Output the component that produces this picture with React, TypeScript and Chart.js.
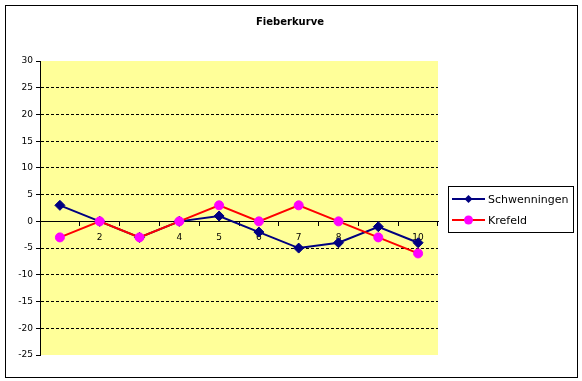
import React, { useEffect, useRef } from "react";
import { Chart, registerables } from "chart.js";

Chart.register(...registerables);

const TITLE = "Fieberkurve";
const CATEGORIES = ["1", "2", "3", "4", "5", "6", "7", "8", "9", "10"];
const SERIES_NAMES = ["Schwenningen", "Krefeld"];
const SCHWENNINGEN = [3, 0, -3, 0, 1, -2, -5, -4, -1, -4];
const KREFELD = [-3, 0, -3, 0, 3, 0, 3, 0, -3, -6];
const Y_MIN = -25;
const Y_MAX = 30;
const Y_STEP = 5;

const NAVY = "#000080";
const RED = "#FF0000";
const MAGENTA = "#FF00FF";
const PLOT_BG = "#FFFF99";
const FONT = "'DejaVu Sans', Tahoma, Verdana, sans-serif";

const decorPlugin = {
  id: "decor",
  beforeDraw(chart: any) {
    const { ctx, chartArea, width, height } = chart;
    ctx.save();
    ctx.fillStyle = "#ffffff";
    ctx.fillRect(0, 0, width, height);
    ctx.strokeStyle = "#000000";
    ctx.lineWidth = 1;
    ctx.strokeRect(5.5, 5.5, 572, 372);
    ctx.fillStyle = PLOT_BG;
    ctx.fillRect(chartArea.left, chartArea.top, chartArea.right - chartArea.left, chartArea.bottom - chartArea.top);
    ctx.restore();
  },
  afterDraw(chart: any) {
    const { ctx } = chart;
    ctx.save();
    // title
    ctx.fillStyle = "#000000";
    ctx.font = `bold 10px ${FONT}`;
    ctx.textAlign = "center";
    ctx.textBaseline = "middle";
    ctx.fillText(TITLE, 290, 22);
    // legend box
    ctx.strokeStyle = "#000000";
    ctx.lineWidth = 1;
    ctx.strokeRect(448.5, 186.5, 125, 46);
    const rows = [
      { name: SERIES_NAMES[0], line: NAVY, fill: NAVY, style: "diamond", y: 199 },
      { name: SERIES_NAMES[1], line: RED, fill: MAGENTA, style: "circle", y: 220 },
    ];
    rows.forEach((r) => {
      ctx.strokeStyle = r.line;
      ctx.lineWidth = 2;
      ctx.beginPath();
      ctx.moveTo(452, r.y);
      ctx.lineTo(485, r.y);
      ctx.stroke();
      ctx.fillStyle = r.fill;
      ctx.beginPath();
      if (r.style === "diamond") {
        ctx.moveTo(468.5, r.y - 4);
        ctx.lineTo(472.5, r.y);
        ctx.lineTo(468.5, r.y + 4);
        ctx.lineTo(464.5, r.y);
        ctx.closePath();
      } else {
        ctx.arc(468.5, r.y, 4.5, 0, Math.PI * 2);
      }
      ctx.fill();
      ctx.fillStyle = "#000000";
      ctx.font = `11px ${FONT}`;
      ctx.textAlign = "left";
      ctx.textBaseline = "middle";
      ctx.fillText(r.name, 488, r.y + 1);
    });
    ctx.restore();
  },
};

export default function App() {
  const ref = useRef<HTMLCanvasElement | null>(null);
  useEffect(() => {
    if (!ref.current) return;
    const chart = new Chart(ref.current, {
      type: "line",
      data: {
        labels: CATEGORIES,
        datasets: [
          {
            label: SERIES_NAMES[0],
            data: SCHWENNINGEN,
            borderColor: NAVY,
            backgroundColor: NAVY,
            pointBackgroundColor: NAVY,
            pointBorderColor: NAVY,
            pointStyle: "rectRot",
            pointRadius: 5,
            pointBorderWidth: 1,
            borderWidth: 2,
            tension: 0,
            order: 1,
          },
          {
            label: SERIES_NAMES[1],
            data: KREFELD,
            borderColor: RED,
            backgroundColor: MAGENTA,
            pointBackgroundColor: MAGENTA,
            pointBorderColor: MAGENTA,
            pointStyle: "circle",
            pointRadius: 4.5,
            pointBorderWidth: 1,
            borderWidth: 2,
            tension: 0,
            order: 0,
          },
        ],
      },
      options: {
        responsive: false,
        animation: false,
        layout: { padding: { left: 0, right: 144, top: 61, bottom: 26 } },
        plugins: {
          legend: { display: false },
          title: { display: false },
          tooltip: { enabled: false },
        },
        scales: {
          x: {
            type: "category",
            position: { y: 0 } as any,
            offset: true,
            grid: {
              offset: true,
              drawOnChartArea: false,
              drawTicks: true,
              tickLength: 4,
              color: "#000000",
            },
            border: { display: true, color: "#000000", width: 1 },
            ticks: {
              color: "#000000",
              font: { family: FONT, size: 9 },
              padding: 7,
              maxRotation: 0,
              autoSkip: false,
            },
          },
          y: {
            min: Y_MIN,
            max: Y_MAX,
            afterFit(scale: any) {
              scale.width = 40;
            },
            ticks: {
              stepSize: Y_STEP,
              color: "#000000",
              font: { family: FONT, size: 9 },
              padding: 3,
            },
            grid: {
              color: (c: any) =>
                c.tick && (c.tick.value === Y_MAX || c.tick.value === Y_MIN) ? "rgba(0,0,0,0)" : "#000000",
              tickColor: "#000000",
              tickLength: 4,
              lineWidth: 1,
            },
            border: { display: true, color: "#000000", width: 1, dash: [3, 2] },
          },
        },
      },
      plugins: [decorPlugin],
    });
    return () => chart.destroy();
  }, []);
  return (
    <div style={{ position: "absolute", left: 0, top: 0, width: 582, height: 381 }}>
      <canvas ref={ref} width={582} height={381} style={{ display: "block" }} />
    </div>
  );
}
